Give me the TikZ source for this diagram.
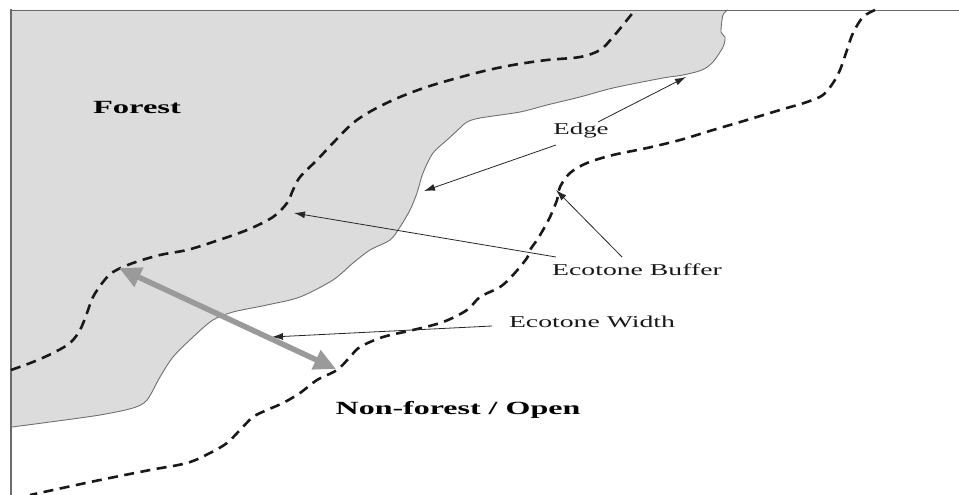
\documentclass[tikz,border=0pt]{standalone}
\usepackage{fontspec}
\setmainfont{Liberation Serif}
\usetikzlibrary{arrows.meta}
\definecolor{forestfill}{HTML}{DCDCDC}
\definecolor{edgeline}{HTML}{707070}
\definecolor{framegray}{HTML}{6A6A6A}
\definecolor{widtharrow}{HTML}{9A9A9A}
\tikzset{
  lbl/.style={inner sep=0pt, text=black!90, font=\fontsize{16.6}{18}\selectfont},
  bigl/.style={inner sep=0pt, text=black, font=\fontsize{18.6}{20}\bfseries\selectfont},
  buffer/.style={line width=2.6pt, dash pattern=on 10pt off 6.5pt, black!90},
  pointer/.style={line width=0.8pt, black!85, -{Latex[length=11pt,width=7pt]}},
}
\begin{document}
\begin{tikzpicture}[x=1pt,y=-1pt]
\useasboundingbox (0,0) rectangle (959,495);
% forest area
\fill[forestfill] (12,10) -- (728,10) -- plot[smooth,tension=0.5] coordinates {
 (728,10) (723,15) (721,32) (725,37) (723,47) (713,62) (702,70) (683,75) (663,78)
 (613,88) (580,97) (547,105) (520,112) (480,118) (467,122) (460,128) (447,140)
 (433,153) (423,173) (417,193) (410,210) (400,227) (390,240) (370,250) (353,263)
 (333,280) (300,297) (267,305) (233,312) (213,320) (193,337) (173,357) (160,377)
 (147,400) (133,408) (100,415) (50,422) (12,427)} -- cycle;
\draw[edgeline, line width=0.9pt] plot[smooth,tension=0.5] coordinates {
 (728,10) (723,15) (721,32) (725,37) (723,47) (713,62) (702,70) (683,75) (663,78)
 (613,88) (580,97) (547,105) (520,112) (480,118) (467,122) (460,128) (447,140)
 (433,153) (423,173) (417,193) (410,210) (400,227) (390,240) (370,250) (353,263)
 (333,280) (300,297) (267,305) (233,312) (213,320) (193,337) (173,357) (160,377)
 (147,400) (133,408) (100,415) (50,422) (12,427)};
% frame
\draw[framegray, line width=0.8pt] (10,10) -- (959,10);
\draw[framegray, line width=2.2pt] (11,9.5) -- (11,495);
% inner buffer line
\draw[buffer] plot[smooth,tension=0.55] coordinates {
 (11,370) (33,362) (53,353) (70,343) (80,330) (87,313) (93,297) (103,282) (113,272)
 (133,263) (160,255) (187,250) (213,242) (247,230) (273,217) (287,203) (293,190)
 (300,177) (317,160) (333,143) (353,123) (373,110) (400,97) (433,85) (480,72)
 (513,65) (547,60) (580,57) (600,50) (613,37) (627,20) (635,10)};
% outer buffer line
\draw[buffer] plot[smooth,tension=0.55] coordinates {
 (875,10) (863,17) (853,33) (847,50) (840,70) (833,83) (823,95) (807,102) (780,110)
 (747,120) (713,130) (680,140) (647,148) (613,155) (587,163) (570,173) (560,187)
 (557,200) (550,217) (543,230) (537,240) (530,250) (527,258) (513,275) (500,287)
 (480,297) (467,310) (443,322) (413,330) (383,337) (360,347) (350,357) (337,370)
 (317,380) (300,393) (283,403) (267,410) (253,417) (240,430) (227,443) (210,453)
 (187,463) (150,470) (100,480) (67,487) (30,495)};
% labels
\node[bigl] (forest) at (137,108) {\scalebox{1.75}[1]{Forest}};
\node[bigl] (open) at (458,410) {\scalebox{1.72}[1]{Non-forest / Open}};
\node[lbl] (edge) at (581,131) {\scalebox{1.62}[1]{Edge}};
\node[lbl] (buffer) at (637,270) {\scalebox{1.67}[1]{Ecotone Buffer}};
\node[lbl] (width) at (592,322) {\scalebox{1.67}[1]{Ecotone Width}};
% targets
\coordinate (edgeA) at (686,77);
\coordinate (edgeB) at (424,191);
\coordinate (bufA) at (294,213);
\coordinate (bufB) at (556,190);
\coordinate (widA) at (272,337);
\coordinate (wL) at (119,268);
\coordinate (wR) at (336,369);
\coordinate (e1) at (598,122);
\coordinate (e2) at (556,145);
\coordinate (b1) at (556,257);
\coordinate (b2) at (622,257);
\coordinate (w1) at (492,326);
% pointers
\draw[pointer] (e1) -- (edgeA);
\draw[pointer] (e2) -- (edgeB);
\draw[pointer] (b1) -- (bufA);
\draw[pointer] (b2) -- (bufB);
\draw[pointer] (w1) -- (widA);
% ecotone width double arrow
\draw[widtharrow, line width=5.5pt, {Triangle[length=22pt,width=20pt]}-{Triangle[length=22pt,width=20pt]}] (wL) -- (wR);
\end{tikzpicture}
\end{document}
